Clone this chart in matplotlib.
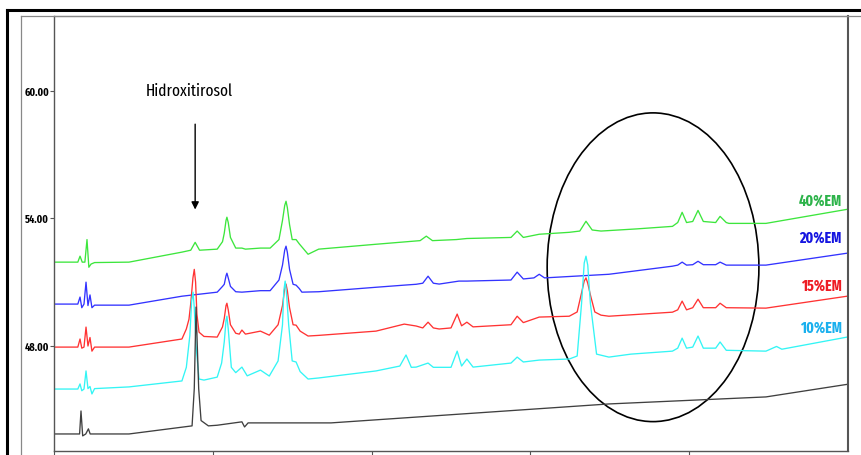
import matplotlib
matplotlib.use('Agg')
import matplotlib.pyplot as plt
from matplotlib.lines import Line2D
from matplotlib.patches import Ellipse
from matplotlib import font_manager

# Chromatogram traces, (time min, signal)
trace_40 = [(0, 51.94), (2.7, 51.94), (2.95, 52.22), (3.2, 51.94), (3.5, 51.94),
            (3.74, 53.0), (3.95, 51.7), (4.2, 51.85), (4.6, 51.92), (8.5, 51.94),
            (14.5, 52.41), (15.5, 52.5), (16.0, 52.87), (16.5, 52.5), (18.5, 52.55),
            (19.1, 52.9), (19.3, 53.3), (19.5, 53.9), (19.6, 54.05), (19.75, 53.8),
            (20.0, 53.1), (20.6, 52.6), (21.3, 52.6),
            (21.7, 52.55), (23.4, 52.6), (24.5, 52.6), (25.5, 53.0), (25.9, 53.9),
            (26.15, 54.6), (26.3, 54.8), (26.45, 54.5), (26.7, 53.7), (27.0, 53.0),
            (27.44, 53.0), (27.8, 52.8),
            (28.8, 52.31), (30.0, 52.55), (36.5, 52.78), (41.5, 52.95), (42.2, 53.16),
            (42.9, 52.95), (45.6, 53.0), (46.8, 53.05), (51.8, 53.1), (52.5, 53.4),
            (53.2, 53.1), (55.0, 53.25), (58.4, 53.34), (59.6, 53.4), (60.3, 53.86),
            (61.0, 53.45), (62.0, 53.4), (66.0, 53.5), (70.1, 53.62), (70.7, 53.8),
            (71.2, 54.28), (71.7, 53.8), (72.4, 53.85), (73.0, 54.37), (73.6, 53.85),
            (75.0, 53.8), (75.5, 54.09), (76.2, 53.8), (76.5, 53.76), (80.7, 53.76),
            (89.9, 54.42)]

trace_20 = [(0, 49.97), (2.7, 49.97), (2.95, 50.3), (3.15, 49.8), (3.4, 49.97),
            (3.63, 51.0), (3.85, 49.9), (4.08, 50.4), (4.3, 49.8), (4.6, 49.92),
            (8.5, 49.92), (14.5, 50.34), (18.5, 50.53), (19.1, 50.8), (19.3, 50.9),
            (19.5, 51.3), (19.6, 51.42), (19.75, 51.2), (20.0, 50.8),
            (20.6, 50.55), (21.3, 50.53), (23.4, 50.6), (24.5, 50.6),
            (25.5, 51.1), (25.9, 51.8), (26.15, 52.5), (26.3, 52.69), (26.45, 52.4),
            (26.7, 51.6), (27.1, 50.9),
            (27.44, 50.86), (27.8, 50.7), (28.1, 50.53), (30.0, 50.55), (36.5, 50.76),
            (39.7, 50.86), (41.05, 50.9), (41.8, 50.95), (42.4, 51.28), (43.0, 50.95),
            (43.66, 50.91), (45.9, 51.05), (46.8, 51.05), (51.8, 51.1), (52.5, 51.47),
            (53.2, 51.15), (54.4, 51.2), (55.0, 51.37), (55.6, 51.2), (62.9, 51.37),
            (70.1, 51.75), (70.7, 51.8), (71.2, 51.94), (71.7, 51.8), (72.4, 51.82),
            (73.0, 51.98), (73.6, 51.82), (75.0, 51.82), (75.5, 51.94), (76.2, 51.8),
            (80.7, 51.8), (89.9, 52.36)]

trace_15 = [(0, 47.95), (2.7, 47.95), (2.95, 48.33), (3.15, 47.9), (3.4, 47.95),
            (3.63, 48.89), (3.85, 48.0), (4.08, 48.4), (4.3, 47.76), (4.6, 47.95),
            (8.5, 47.95), (14.5, 48.33), (15.0, 48.8), (15.3, 49.26), (15.5, 50.0),
            (15.75, 51.2), (15.9, 51.6), (16.05, 51.0),
            (16.2, 49.5), (16.44, 48.65), (17.0, 48.45), (18.5, 48.42), (19.1, 48.9),
            (19.3, 49.3), (19.5, 49.9), (19.6, 50.01), (19.75, 49.7),
            (20.0, 49.0), (20.6, 48.6), (21.0, 48.56), (21.3, 48.75),
            (21.7, 48.56), (23.4, 48.7), (24.4, 48.51), (25.4, 49.0), (25.9, 49.9),
            (26.15, 50.7), (26.3, 50.91), (26.45, 50.6), (26.7, 49.8), (27.1, 49.0),
            (27.44, 48.98), (27.9, 48.7),
            (28.8, 48.47), (30.0, 48.5), (36.5, 48.7), (39.7, 49.03), (41.05, 48.94),
            (41.8, 48.85), (42.4, 49.12), (43.0, 48.85), (43.66, 48.8), (45.0, 48.85),
            (45.7, 49.5), (46.2, 48.95), (46.8, 49.12), (47.5, 48.9), (51.8, 49.0),
            (52.5, 49.4), (53.2, 49.1), (55.0, 49.36), (58.4, 49.4), (59.3, 49.6),
            (59.8, 50.5), (60.1, 51.05), (60.3, 51.2), (60.5, 50.95), (60.8, 50.4),
            (61.3, 49.6), (62.0, 49.45),
            (62.9, 49.4), (70.1, 49.59), (70.7, 49.7), (71.2, 50.11), (71.7, 49.7),
            (72.4, 49.8), (73.0, 50.2), (73.6, 49.8), (75.0, 49.8), (75.5, 50.01),
            (76.2, 49.8), (80.7, 49.78), (89.9, 50.34)]

trace_10 = [(0, 45.98), (2.7, 45.98), (2.95, 46.22), (3.15, 45.9), (3.4, 45.98),
            (3.63, 46.83), (3.85, 46.0), (4.08, 46.1), (4.3, 45.75), (4.6, 46.0),
            (8.5, 46.08), (14.5, 46.36), (15.0, 47.0), (15.4, 48.5), (15.6, 50.1),
            (15.76, 50.53), (15.9, 49.8),
            (16.1, 48.0), (16.44, 46.45), (17.0, 46.4), (18.5, 46.54), (19.0, 47.2),
            (19.3, 48.2), (19.5, 49.2), (19.6, 49.4), (19.75, 48.8),
            (20.1, 47.0), (20.6, 46.75), (21.3, 47.01), (21.9, 46.6),
            (23.4, 46.87), (24.4, 46.59), (25.4, 47.3), (25.9, 49.0), (26.05, 50.6),
            (26.2, 51.05), (26.35, 50.5),
            (26.6, 49.0), (27.0, 47.3), (27.44, 47.25), (27.9, 46.8), (28.8, 46.45),
            (30.0, 46.5), (36.5, 46.83), (39.2, 47.06), (39.9, 47.58), (40.5, 47.0),
            (41.05, 47.01), (42.4, 47.2), (43.0, 47.0), (45.0, 47.0), (45.7, 47.76),
            (46.2, 47.06), (46.8, 47.39), (47.5, 47.01), (51.8, 47.2), (52.5, 47.48),
            (53.2, 47.25), (55.0, 47.34), (58.4, 47.39), (59.3, 47.53), (59.8, 50.0),
            (60.1, 51.9), (60.3, 52.22), (60.5, 51.8),
            (60.8, 50.0), (61.5, 47.62), (62.9, 47.48), (65.4, 47.62),
            (70.1, 47.76), (70.7, 47.9), (71.2, 48.37), (71.7, 47.9), (72.4, 47.95),
            (73.0, 48.47), (73.6, 47.9), (75.0, 47.9), (75.5, 48.19), (76.2, 47.8),
            (80.7, 47.76), (81.9, 47.98), (82.5, 47.85), (89.9, 48.42)]

trace_std = [(0, 43.87), (2.9, 43.87), (3.06, 44.95), (3.25, 43.78), (3.6, 43.87),
             (3.9, 44.11), (4.1, 43.87), (8.5, 43.87), (15.65, 44.25), (15.9, 46.0),
             (16.1, 49.83), (16.4, 46.0), (16.67, 44.5), (17.5, 44.25), (18.5, 44.28),
             (21.3, 44.44), (21.6, 44.2), (22.0, 44.39), (31.4, 44.39), (62.9, 45.28),
             (80.7, 45.61), (89.9, 46.2)]

series_labels = ['40%EM', '20%EM', '15%EM', '10%EM']
label_y = [54.5, 52.75, 50.5, 48.5]
xticks = [0, 18, 36, 54, 72]
yticks = [48, 54, 60]

line_colors = ['#3de63d', '#3333ff', '#ff3333', '#33f5f5']
label_colors = ['#2db34a', '#1515e0', '#ee1c24', '#1ab0ee']

# pick a condensed face if one is there
avail = {f.name for f in font_manager.fontManager.ttflist}
narrow = 'Liberation Sans'
for cand in ['Fira Sans Extra Condensed', 'Fira Sans Condensed', 'Liberation Sans Narrow']:
    if cand in avail:
        narrow = cand
        break

W, H = 862, 456
fig = plt.figure(figsize=(W / 100, H / 100), dpi=100)

# outer frames
fig.add_artist(Line2D([7 / W, 7 / W], [0, 1 - 11 / H], color='black', lw=2.2))
fig.add_artist(Line2D([7 / W, 1], [1 - 11 / H, 1 - 11 / H], color='black', lw=2.2))
fig.add_artist(Line2D([21 / W, 21 / W], [0, 1 - 17 / H], color='#888888', lw=0.9))
fig.add_artist(Line2D([21 / W, 1], [1 - 17 / H, 1 - 17 / H], color='#888888', lw=0.9))

ax = fig.add_axes([54 / W, 1 - 452 / H, (848 - 54) / W, (452 - 17) / H])
ax.set_xlim(0, 90)
ax.set_ylim(43.07, 63.5)

for tr, c in zip([trace_40, trace_20, trace_15, trace_10], line_colors):
    ax.plot([p[0] for p in tr], [p[1] for p in tr], color=c, lw=0.95)
ax.plot([p[0] for p in trace_std], [p[1] for p in trace_std], color='#404040', lw=0.95)

for lab, yy, c in zip(series_labels, label_y, label_colors):
    ax.text(89.3, yy, lab, color=c, fontsize=11, fontweight='bold',
            family=narrow, ha='right', va='bottom')

ax.add_patch(Ellipse((67.9, 51.7), 24.0, 14.5, fill=False, ec='black', lw=1.2))

ax.text(15.3, 60.0, 'Hidroxitirosol', family=narrow, fontsize=12,
        ha='center', va='center')
ax.annotate('', xy=(16.0, 54.28), xytext=(16.0, 58.55),
            arrowprops=dict(arrowstyle='-|>', color='black', lw=1,
                            mutation_scale=11))

ax.set_xticks(xticks)
ax.set_xticklabels(['%.2f' % v for v in xticks], family=narrow,
                   fontweight='bold', fontsize=8)
for lbl in ax.get_xticklabels():
    lbl.set_horizontalalignment('left')
ax.set_yticks(yticks)
ax.set_yticklabels(['%.2f' % v for v in yticks], family=narrow,
                   fontweight='bold', fontsize=8)
ax.tick_params(axis='both', length=3, width=0.8, color='#555555', pad=0.5)

for s in ['left', 'bottom']:
    ax.spines[s].set_color('#555555')
    ax.spines[s].set_linewidth(1.0)
ax.spines['top'].set_color('#888888')
ax.spines['top'].set_linewidth(0.9)
ax.spines['right'].set_color('#555555')
ax.spines['right'].set_linewidth(1.5)

fig.savefig('out.png', dpi=100)
